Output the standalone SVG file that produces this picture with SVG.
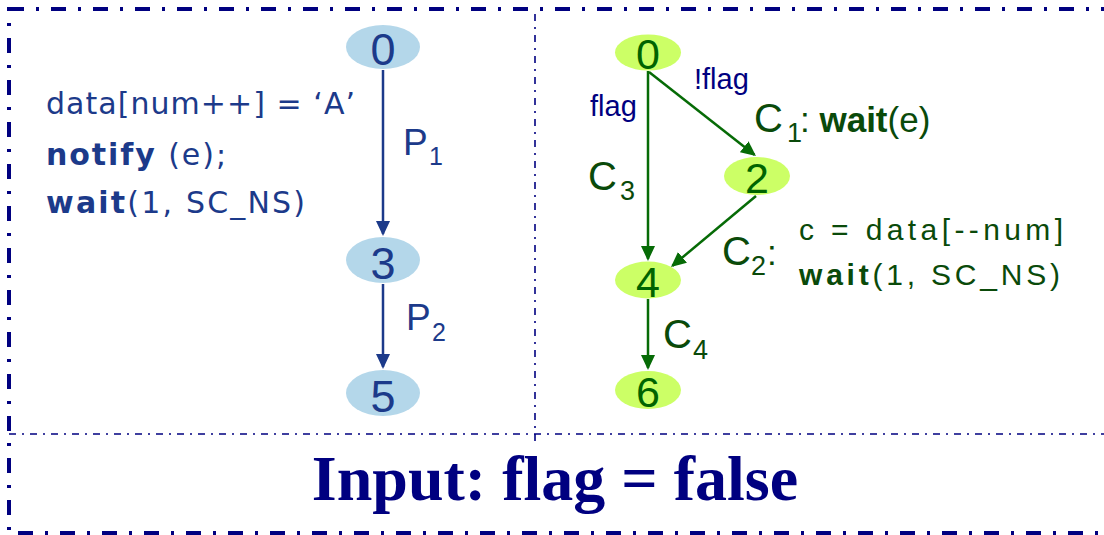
<svg xmlns="http://www.w3.org/2000/svg" width="1104" height="535" viewBox="0 0 1104 535">
<style>
.frame{fill:none;stroke:#000080;stroke-width:4;stroke-dasharray:15 12 3 12}
.div{fill:none;stroke:#000080;stroke-width:1.6;stroke-dasharray:7 6 2 6}
.nb{fill:#b4d7ea}
.ng{fill:#ccff66}
.tb{font-family:"Liberation Sans",Arial,sans-serif;fill:#1c3a8a}
.tg{font-family:"Liberation Sans",Arial,sans-serif;fill:#006400}
.code{font-family:"DejaVu Sans",Verdana,sans-serif;font-size:30px}
.eb{stroke:#1c3a8a;stroke-width:2.5;fill:none;marker-end:url(#ab)}
.eg{stroke:#066b06;stroke-width:2.5;fill:none;marker-end:url(#ag)}
.lbl{font-family:"Liberation Sans",Arial,sans-serif;fill:#0a4a0a}
.cond{font-family:"Liberation Sans",Arial,sans-serif;fill:#000080;font-size:29px}
</style>
<defs>
<marker id="ab" viewBox="0 0 15 14" refX="13" refY="7" markerWidth="15" markerHeight="14" markerUnits="userSpaceOnUse" orient="auto"><path d="M0,0 L15,7 L0,14 z" fill="#1c3a8a"/></marker>
<marker id="ag" viewBox="0 0 15 14" refX="13" refY="7" markerWidth="15" markerHeight="14" markerUnits="userSpaceOnUse" orient="auto"><path d="M0,0 L15,7 L0,14 z" fill="#066b06"/></marker>
</defs>

<rect class="frame" x="9" y="9" width="1115" height="524"/>
<line class="div" x1="9" y1="434" x2="1104" y2="434"/>
<line class="div" x1="535" y1="14" x2="535" y2="444"/>

<g id="connectors">
<line class="eb" x1="383" y1="70" x2="383" y2="234"/>
<line class="eb" x1="383" y1="284" x2="383" y2="367"/>
<line class="eg" x1="649" y1="72" x2="754.4" y2="154.8"/>
<line class="eg" x1="648" y1="71" x2="648" y2="259"/>
<line class="eg" x1="756" y1="196" x2="672.5" y2="265.7"/>
<line class="eg" x1="648" y1="299" x2="648" y2="368"/>
</g>

<g id="L0"><ellipse class="nb" cx="383" cy="47" rx="37" ry="22"/><text class="tb" x="383" y="65" font-size="45" text-anchor="middle">0</text></g>
<g id="L3"><ellipse class="nb" cx="383" cy="260" rx="37" ry="23"/><text class="tb" x="383" y="279" font-size="45" text-anchor="middle">3</text></g>
<g id="L5"><ellipse class="nb" cx="383" cy="393" rx="37" ry="23"/><text class="tb" x="383" y="412" font-size="45" text-anchor="middle">5</text></g>

<g id="R0"><ellipse class="ng" cx="648" cy="52.5" rx="33" ry="18"/><text class="tg" x="648" y="69" font-size="43" text-anchor="middle">0</text></g>
<g id="R2"><ellipse class="ng" cx="757" cy="176" rx="33" ry="19"/><text class="tg" x="757" y="193" font-size="43" text-anchor="middle">2</text></g>
<g id="R4"><ellipse class="ng" cx="648" cy="280" rx="33" ry="18.5"/><text class="tg" x="648" y="297" font-size="43" text-anchor="middle">4</text></g>
<g id="R6"><ellipse class="ng" cx="648" cy="390" rx="33" ry="19"/><text class="tg" x="648" y="407" font-size="43" text-anchor="middle">6</text></g>

<g id="left-code" class="tb">
<text class="code" x="46" y="114" textLength="309" lengthAdjust="spacing">data[num++] = ‘A’</text>
<text class="code" x="46" y="165" textLength="180" lengthAdjust="spacing"><tspan font-weight="bold">notify</tspan> (e);</text>
<text class="code" x="46" y="213" textLength="259" lengthAdjust="spacing"><tspan font-weight="bold">wait</tspan>(1, SC_NS)</text>
</g>

<g id="P-labels" class="tb">
<text x="403" y="155" font-size="37">P</text><text x="429" y="165" font-size="25">1</text>
<text x="406" y="330" font-size="37">P</text><text x="432" y="341" font-size="25">2</text>
</g>

<g id="right-labels">
<text class="cond" x="590" y="116">flag</text>
<text class="cond" x="694" y="89">!flag</text>
<text class="lbl" x="754" y="132" font-size="40">C</text><text class="lbl" x="787" y="142" font-size="27">1</text>
<text class="lbl" x="800" y="132" font-size="35">: <tspan font-weight="bold">wait</tspan>(e)</text>
<text class="lbl" x="588" y="190" font-size="40">C</text><text class="lbl" x="620" y="200" font-size="27">3</text>
<text class="lbl" x="722" y="265" font-size="40">C</text><text class="lbl" x="751" y="275" font-size="27">2</text>
<text class="lbl" x="767" y="265" font-size="35">:</text>
<text class="lbl" x="663" y="348" font-size="40">C</text><text class="lbl" x="693" y="359" font-size="27">4</text>
<text class="lbl code" x="799" y="240" textLength="264" lengthAdjust="spacing">c = data[--num]</text>
<text class="lbl code" x="799" y="285" textLength="261" lengthAdjust="spacing"><tspan font-weight="bold">wait</tspan>(1, SC_NS)</text>
</g>

<text x="555" y="500" font-family="Liberation Serif,'Times New Roman',serif" font-weight="bold" font-size="64" fill="#000080" text-anchor="middle">Input: flag = false</text>
</svg>
